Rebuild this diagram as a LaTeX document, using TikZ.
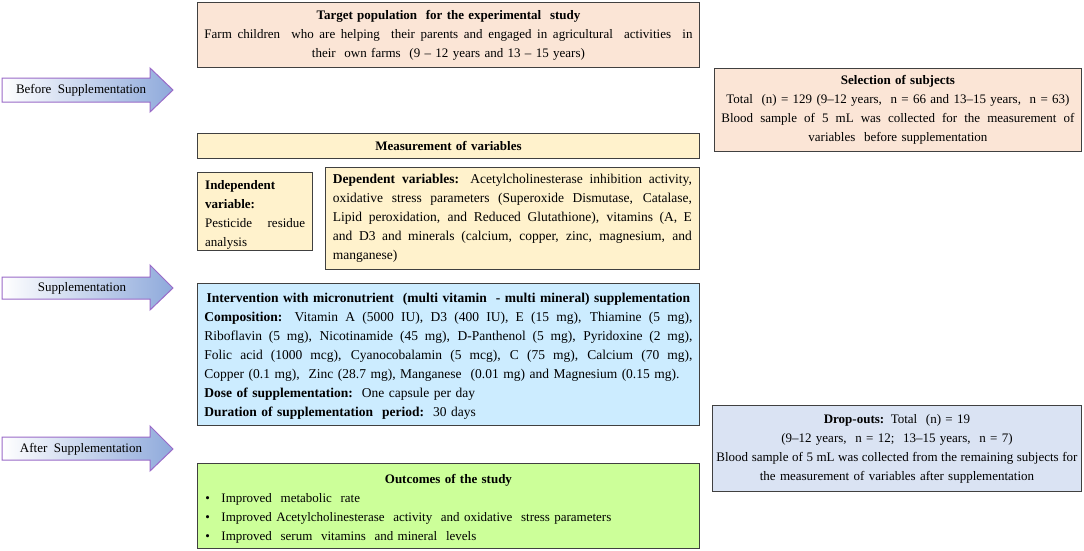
\documentclass[tikz,border=0pt]{standalone}
\usepackage{fontspec}
\setmainfont{Liberation Serif}
\definecolor{peach}{HTML}{FBE5D6}
\definecolor{paleyellow}{HTML}{FFF2CC}
\definecolor{paleblue}{HTML}{CCECFF}
\definecolor{greyblue}{HTML}{DAE3F3}
\definecolor{palegreen}{HTML}{CCFF99}
\definecolor{boxline}{HTML}{404040}
\definecolor{arrowpurple}{HTML}{9A6BC8}
\definecolor{arrowblue}{HTML}{8EA9DB}
\newcommand\fullline[2]{\makebox[#1][s]{\spaceskip=0.25em plus 1em minus 0.1em\xspaceskip=0pt #2}}
\begin{document}
\begin{tikzpicture}[x=1pt,y=-1pt,
  every node/.style={font=\fontsize{13}{19}\selectfont},
  bigtext/.style={font=\fontsize{13.5}{19}\selectfont},
  box/.style={draw=boxline, line width=0.9pt, anchor=north west, inner xsep=7pt, inner ysep=0pt},
  arrowshape/.style={left color=white, right color=arrowblue, draw=arrowpurple, line width=1pt},
  arrowtext/.style={inner sep=0pt}
]
\useasboundingbox[fill=white] (0,0) rectangle (1084,550);

% left arrows
\shadedraw[arrowshape] (2,78) -- (150,78) -- (150,68) -- (173,90) -- (150,112) -- (150,102) -- (2,102) -- cycle;
\node[arrowtext] (lbefore) at (81,90) {Before\ \ Supplementation};
\shadedraw[arrowshape] (2,277) -- (150,277) -- (150,265) -- (173,288) -- (150,310) -- (150,299) -- (2,299) -- cycle;
\node[arrowtext] (lsupp) at (82,288) {Supplementation};
\shadedraw[arrowshape] (2,437) -- (150,437) -- (150,426) -- (173,449) -- (150,471) -- (150,460) -- (2,460) -- cycle;
\node[arrowtext] (lafter) at (81,449) {After\ \ Supplementation};

% boxes
\node[box, fill=peach, minimum width=502pt, minimum height=65pt, text width=488pt, align=center] (target) at (197,2)
{\textbf{Target population\ \ for the experimental\ \ study}\\
\fullline{488pt}{Farm children\ \ who are helping\ \ their parents and engaged in agricultural\ \ activities\ \ in}\\
their\ \ own farms\ \ (9 – 12 years and 13 – 15 years)};

\node[box, fill=peach, minimum width=367pt, minimum height=83pt, text width=353pt, align=center] (select) at (714,68)
{\textbf{Selection of subjects}\\
Total\ \ (n) = 129 (9–12 years,\ \ n = 66 and 13–15 years,\ \ n = 63)\\
\fullline{353pt}{Blood sample of 5 mL was collected for the measurement of}\\
variables\ \ before supplementation};

\node[box, fill=paleyellow, minimum width=502pt, minimum height=25pt, text width=488pt, align=center] (measure) at (197,133)
{\textbf{Measurement of variables}};

\node[box, fill=paleyellow, minimum width=115pt, minimum height=78pt, text width=100pt] (indep) at (197,172) {};
\node[anchor=north west, inner sep=0pt, text width=100pt, align=left] (indeptext) at (205,180)
{\textbf{Independent}\\ \textbf{variable:}\\ \fullline{100pt}{Pesticide residue}\\ analysis};

\node[box, bigtext, fill=paleyellow, minimum width=374pt, minimum height=102pt, text width=359pt, align=left] (dep) at (325,167)
{\fullline{359pt}{\textbf{Dependent variables:} Acetylcholinesterase inhibition activity,}\\
\fullline{359pt}{oxidative stress parameters (Superoxide Dismutase, Catalase,}\\
\fullline{359pt}{Lipid peroxidation, and Reduced Glutathione), vitamins (A, E}\\
\fullline{359pt}{and D3 and minerals (calcium, copper, zinc, magnesium, and}\\
manganese)};

\node[box, bigtext, fill=paleblue, minimum width=502pt, minimum height=142pt, text width=488pt, align=left] (interv) at (197,283)
{\makebox[488pt][c]{\rule{0pt}{12pt}\textbf{Intervention with micronutrient\ \ (multi vitamin\ \ - multi mineral) supplementation}}\\
\fullline{488pt}{\textbf{Composition:} Vitamin A (5000 IU), D3 (400 IU), E (15 mg), Thiamine (5 mg),}\\
\fullline{488pt}{Riboflavin (5 mg), Nicotinamide (45 mg), D-Panthenol (5 mg), Pyridoxine (2 mg),}\\
\fullline{488pt}{Folic acid (1000 mcg), Cyanocobalamin (5 mcg), C (75 mg), Calcium (70 mg),}\\
\makebox[488pt][l]{Copper (0.1 mg),\ \ Zinc (28.7 mg), Manganese\ \ (0.01 mg) and Magnesium (0.15 mg).}\\
\textbf{Dose of supplementation:}\ \ One capsule per day\\
\textbf{Duration of supplementation\ \ period:}\ \ 30 days};

\node[box, fill=greyblue, minimum width=369pt, minimum height=86pt, text width=361pt, inner xsep=4pt, align=center] (drop) at (712,405)
{\textbf{Drop-outs:} Total\ \ (n) = 19\\
(9–12 years,\ \ n = 12;\ \ 13–15 years,\ \ n = 7)\\
\fullline{361pt}{Blood sample of 5 mL was collected from the remaining subjects for}\\
the measurement of variables after supplementation};

\node[box, fill=palegreen, minimum width=502pt, minimum height=85pt, text width=486pt, inner xsep=8pt, align=left] (outcome) at (197,463)
{\makebox[486pt][c]{\rule{0pt}{15pt}\textbf{Outcomes of the study}}\\
\makebox[16pt][l]{•}Improved\ \ metabolic\ \ rate\\
\makebox[16pt][l]{•}Improved Acetylcholinesterase\ \ activity\ \ and oxidative\ \ stress parameters\\
\makebox[16pt][l]{•}Improved\ \ serum\ \ vitamins\ \ and mineral\ \ levels};
\end{tikzpicture}
\end{document}
